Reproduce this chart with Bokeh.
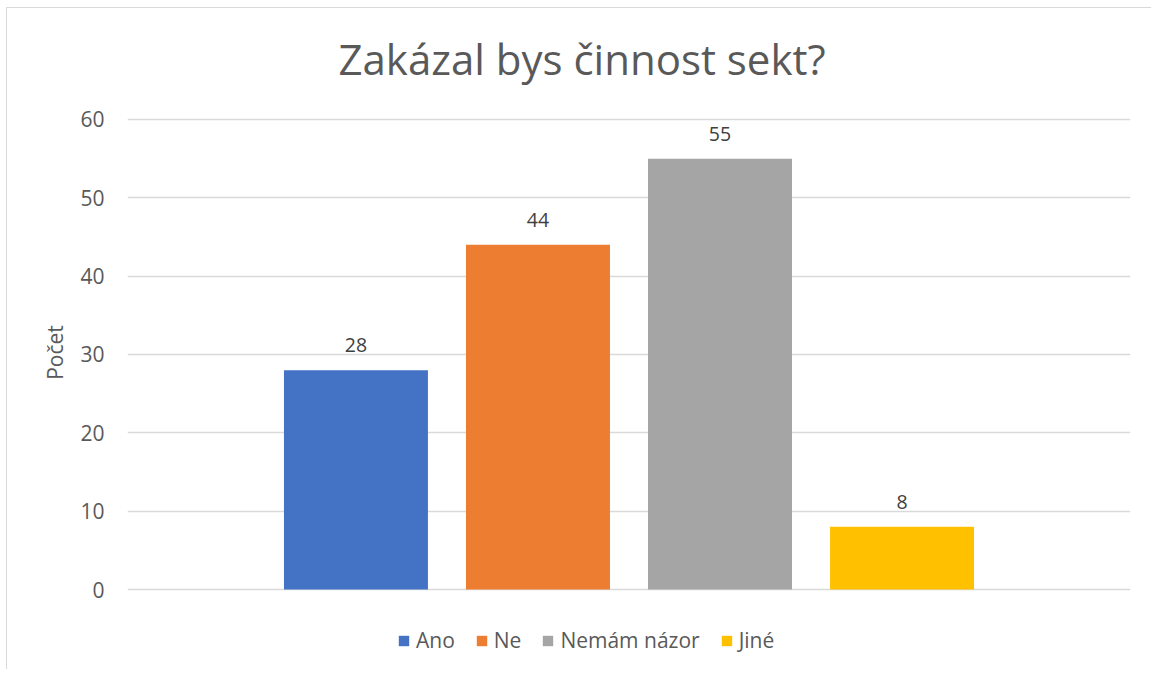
from bokeh.plotting import figure
from bokeh.models import Range1d, FixedTicker, Legend, LegendItem, Label, ColumnDataSource
from bokeh.embed import file_html
from bokeh.resources import INLINE
from bokeh.core.properties import value

title_text = "Zakázal bys činnost sekt?"
y_label = "Počet"
categories = ["Ano", "Ne", "Nemám názor", "Jiné"]
counts = [28, 44, 55, 8]
colors = ["#4472C4", "#ED7D31", "#A5A5A5", "#FFC000"]
y_ticks = [0, 10, 20, 30, 40, 50, 60]

FONT = "Open Sans"
TEXT = "#595959"

# The frame is stretched above and below the value axis (0..60) so that the
# title and the legend can sit inside it.
p = figure(width=1145, height=662, output_backend="svg", toolbar_location=None,
           x_range=Range1d(-1.255, 4.255), y_range=Range1d(-10.34, 70.85),
           min_border_left=120, min_border_right=22, min_border_top=26,
           min_border_bottom=0, outline_line_color=None,
           styles={"margin-left": "6px", "margin-top": "7px",
                   "border-left": "1px solid #D9D9D9", "border-top": "1px solid #D9D9D9"})

src = ColumnDataSource(dict(
    x=list(range(len(categories))), cat=categories, count=counts,
    color=colors, label=[str(c) for c in counts]))

r = p.vbar(x="x", top="count", bottom=0, width=0.791, fill_color="color",
           line_color=None, source=src)
p.text(x="x", y="count", text="label", source=src, text_align="center",
       text_baseline="alphabetic", y_offset=-25, text_font=value(FONT),
       text_font_size="19.5px", text_color="#404040")

# axes
p.xaxis.visible = False
p.xgrid.visible = False
p.yaxis.ticker = FixedTicker(ticks=y_ticks)
p.ygrid.ticker = FixedTicker(ticks=y_ticks)
p.ygrid.grid_line_color = "#D9D9D9"
p.ygrid.grid_line_width = 1.5
p.yaxis.axis_line_color = None
p.yaxis.major_tick_line_color = None
p.yaxis.minor_tick_line_color = None
p.yaxis.major_tick_out = 0
p.yaxis.major_tick_in = 0
p.yaxis.major_label_standoff = 23
p.yaxis.major_label_text_font = FONT
p.yaxis.major_label_text_font_size = "21px"
p.yaxis.major_label_text_color = TEXT
p.yaxis.axis_label = y_label
p.yaxis.axis_label_text_font = FONT
p.yaxis.axis_label_text_font_size = "21px"
p.yaxis.axis_label_text_font_style = "normal"
p.yaxis.axis_label_text_color = TEXT
p.yaxis.axis_label_standoff = 8

# title
p.add_layout(Label(x=1.242, y=y_ticks[-1], y_offset=61, text=title_text,
                   text_align="center", text_baseline="alphabetic",
                   text_font=FONT, text_font_size="42px",
                   text_color=TEXT))

# legend
items = [LegendItem(label=c, renderers=[r], index=i) for i, c in enumerate(categories)]
legend = Legend(items=items, orientation="horizontal", location=(270, 16),
                glyph_width=13, glyph_height=13, label_standoff=6, spacing=20,
                padding=0, margin=0, label_height=21,
                label_text_font=FONT, label_text_font_size="21px",
                label_text_color=TEXT, background_fill_alpha=0,
                border_line_color=None)
p.add_layout(legend)

open("out.html", "w").write(file_html(p, INLINE))
